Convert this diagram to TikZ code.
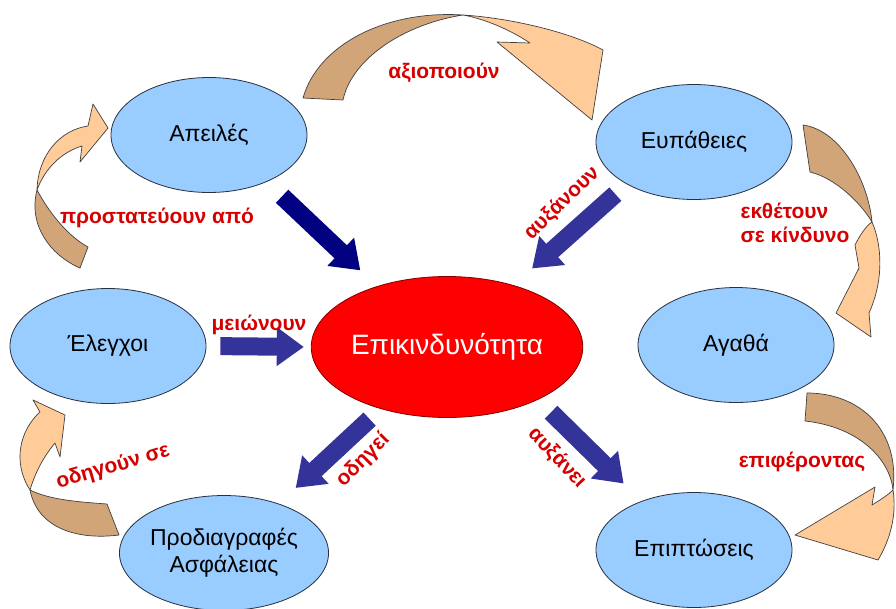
\documentclass[tikz,border=0pt]{standalone}
\usepackage{fontspec}
\setmainfont{Liberation Sans}
\usetikzlibrary{shapes.geometric, arrows.meta}
\definecolor{skyfill}{RGB}{153,204,255}
\definecolor{ringline}{RGB}{40,48,64}
\definecolor{tandark}{RGB}{210,165,120}
\definecolor{tanlight}{RGB}{255,204,153}
\definecolor{labelred}{RGB}{214,0,0}
\definecolor{deepblue}{RGB}{0,0,128}
\definecolor{slateblue}{RGB}{51,51,153}
\tikzstyle{blob}=[shape=ellipse, minimum width=196pt, minimum height=115pt, inner sep=0, fill=skyfill, draw=ringline, line width=0.8pt, font=\fontsize{23}{27}\selectfont, align=center]
\tikzstyle{core}=[blob, fill=red, draw=red!50!black, minimum width=224pt, minimum height=141pt, text=white, font=\fontsize{28}{32}\selectfont]
\tikzstyle{verb}=[text=labelred, font=\fontsize{21}{24}\selectfont\bfseries, inner sep=0]
\tikzstyle{push}=[line width=18pt, -{Triangle[length=27pt, width=37pt]}]
\tikzstyle{band}=[draw=black!75, line width=0.7pt, line join=round]

\begin{document}
\begin{tikzpicture}[x=1pt, y=-1pt]
\useasboundingbox (0,0) rectangle (896,608);
\fill[white] (0,0) rectangle (896,608);
\filldraw[band, fill=tandark] (303,98) .. controls (318,45) and (385,10) .. (463,15) .. controls (405,24) and (352,58) .. (343,100) -- cycle;
\filldraw[band, fill=tanlight] (463,15) .. controls (510,18) and (570,32) .. (603,50) -- (592,120) -- (497,42) -- (530,43) .. controls (515,33) and (490,20) .. (463,15) -- cycle;
\filldraw[band, fill=tandark] (803,125) .. controls (840,130) and (868,180) .. (872,222) .. controls (860,202) and (835,178) .. (810,172) -- cycle;
\filldraw[band, fill=tanlight] (872,222) .. controls (882,245) and (884,280) .. (869,313) -- (871,337) -- (836,313) -- (859,268) -- (855,245) .. controls (860,235) and (866,226) .. (872,222) -- cycle;
\filldraw[band, fill=tandark] (807,393) .. controls (860,393) and (900,430) .. (893,490) .. controls (890,460) and (860,427) .. (805,421) -- cycle;
\filldraw[band, fill=tanlight] (893,490) .. controls (897,515) and (890,540) .. (878,560) -- (795,535) -- (875,487) -- (872,505) .. controls (880,500) and (888,495) .. (893,490) -- cycle;
\filldraw[band, fill=tandark] (80,268) .. controls (50,255) and (28,225) .. (37,190) .. controls (50,214) and (68,236) .. (88,247) -- cycle;
\filldraw[band, fill=tanlight] (37,190) .. controls (38,155) and (60,130) .. (88,126) -- (93,104) -- (108,128) -- (80,162) -- (82,146) .. controls (62,152) and (45,168) .. (37,190) -- cycle;
\filldraw[band, fill=tandark] (30,490) .. controls (50,500) and (80,502) .. (107,504) -- (119,535) .. controls (80,540) and (38,530) .. (30,490) -- cycle;
\filldraw[band, fill=tanlight] (30,490) .. controls (12,462) and (20,430) .. (40,412) -- (33,400) -- (65,415) -- (60,457) -- (55,443) .. controls (45,455) and (36,470) .. (30,490) -- cycle;
\node at (209,135)[blob](threats){Απειλές};
\node at (694,142)[blob](vulns){Ευπάθειες};
\node at (108,346)[blob](controls){Έλεγχοι};
\node at (447,347)[core](risk){Επικινδυνότητα};
\node at (736,345)[blob](assets){Αγαθά};
\node at (224,553)[blob](specs){Προδιαγραφές\\Ασφάλειας};
\node at (694,550)[blob](impacts){Επιπτώσεις};
\draw[push, deepblue, shorten <=21pt, shorten >=23pt] (threats.-39) -- (risk.139);
\draw[push, slateblue, shorten <=15pt, shorten >=25pt] (vulns.212) -- (risk.43);
\draw[push, slateblue, shorten <=14pt, shorten >=7pt] (controls.east) -- (risk.west);
\draw[push, slateblue, shorten <=15pt, shorten >=23pt] (risk.223) -- (specs.42);
\draw[push, slateblue, shorten <=18pt, shorten >=25pt] (risk.-30) -- (impacts.137);
\node at (444,73)[verb](exploit){αξιοποιούν};
\node at (157,218)[verb](protect){προστατεύουν από};
\node at (795,223)[verb, align=left](expose){εκθέτουν\\σε κίνδυνο};
\node at (562,203)[verb, rotate=44](increase){αυξάνουν};
\node at (259,325)[verb](reduce){μειώνουν};
\node at (363,460)[verb, rotate=45](leads){οδηγεί};
\node at (113,467)[verb, rotate=16](leadto){οδηγούν σε};
\node at (557,458)[verb, rotate=-47](raises){αυξάνει};
\node at (802,462)[verb](bring){επιφέροντας};
\end{tikzpicture}
\end{document}
